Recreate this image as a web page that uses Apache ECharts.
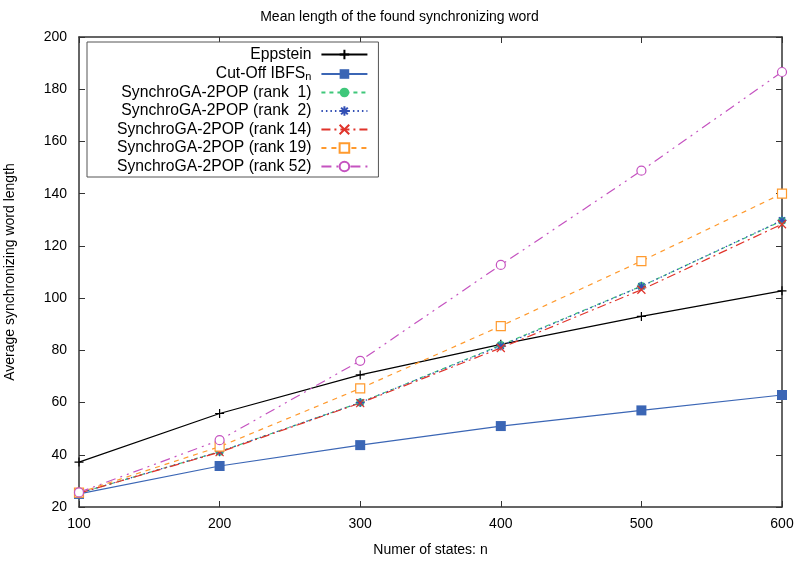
<!DOCTYPE html>
<html>
<head>
<meta charset="utf-8">
<script src="https://cdn.jsdelivr.net/npm/echarts@6/dist/echarts.min.js"></script>
<style>
  html, body { margin: 0; padding: 0; background: #fff; }
  #chart { width: 799px; height: 564px; }
</style>
</head>
<body>
<div id="chart"></div>
<script>
// values
const states = [100, 200, 300, 400, 500, 600];
const eppstein = [37.2, 55.8, 70.6, 82.3, 93.0, 102.8];
const cutOff = [25.0, 35.7, 43.7, 51.0, 57.0, 62.9];
const rank1 = [25.3, 41.2, 60.0, 82.0, 104.6, 129.6];
const rank2 = [25.3, 41.2, 60.0, 81.7, 104.5, 129.8];
const rank14 = [25.3, 41.0, 59.8, 80.9, 103.2, 128.3];
const rank19 = [25.5, 43.1, 65.4, 89.3, 114.2, 140.0];
const rank52 = [25.6, 45.6, 76.0, 112.7, 148.8, 186.6];

const font = 'Liberation Sans';

let chart = echarts.init(document.getElementById('chart'));

function pts(vals) {
  return states.map((s, i) => [s, vals[i]]);
}

function mkSeries(name, vals, color, dash, symbol, size, extra) {
  let s = {
    name: name,
    type: 'line',
    data: pts(vals),
    symbol: symbol,
    symbolSize: size,
    showAllSymbol: true,
    lineStyle: { color: color, width: 1.2, type: dash },
    itemStyle: { color: color, borderColor: color, borderWidth: 1.2 },
    emphasis: { disabled: true },
    z: 3
  };
  return Object.assign(s, extra || {});
}

const plus = 'path://M5,0L5,10M0,5L10,5';
const cross = 'path://M0,0L10,10M10,0L0,10';
const star = 'path://M5,0L5,10M0,5L10,5M1.5,1.5L8.5,8.5M8.5,1.5L1.5,8.5';

let option = {
  animation: false,
  backgroundColor: '#fff',
  title: {
    text: 'Mean length of the found synchronizing word',
    left: 'center',
    top: 5,
    textStyle: { fontFamily: font, fontSize: 14, fontWeight: 'normal', color: '#000' }
  },
  legend: {
    orient: 'vertical',
    left: 87,
    top: 42,
    align: 'right',
    itemWidth: 46,
    itemHeight: 12,
    itemGap: 1.5,
    padding: [4, 10, 2, 30],
    borderColor: '#555',
    borderWidth: 1,
    backgroundColor: '#fff',
    formatter: function (name) {
      if (name === 'Cut-Off IBFS_n') return '{a|Cut-Off IBFS}{sub|n}';
      return name;
    },
    textStyle: {
      fontFamily: font, fontSize: 15.7, color: '#000', lineHeight: 17, padding: [0, 5, 0, 0],
      rich: {
        a: { fontFamily: font, fontSize: 15.7, color: '#000', lineHeight: 17 },
        sub: { fontFamily: font, fontSize: 11, color: '#000', lineHeight: 17, verticalAlign: 'bottom', padding: [7, 0, 0, 0] }
      }
    },
    data: ['Eppstein', 'Cut-Off IBFS_n', 'SynchroGA-2POP (rank  1)', 'SynchroGA-2POP (rank  2)',
      'SynchroGA-2POP (rank 14)', 'SynchroGA-2POP (rank 19)', 'SynchroGA-2POP (rank 52)']
  },
  grid: { left: 79, right: 17, top: 37, bottom: 57, outerBoundsMode: 'none', containLabel: false },
  xAxis: [{
    type: 'value',
    min: 100, max: 600, interval: 100,
    name: 'Numer of states: n',
    nameLocation: 'middle',
    nameGap: 36,
    nameTextStyle: { fontFamily: font, fontSize: 14, color: '#000' },
    axisLine: { show: true, lineStyle: { color: '#333', width: 1.5 } },
    axisTick: { inside: true, length: 6, lineStyle: { color: '#333' } },
    axisLabel: { fontFamily: font, fontSize: 14, color: '#000', margin: 10 },
    splitLine: { show: false }
  }, {
    type: 'value',
    position: 'top',
    min: 100, max: 600, interval: 100,
    axisLine: { show: true, lineStyle: { color: '#333', width: 1.5 } },
    axisTick: { inside: true, length: 6, lineStyle: { color: '#333' } },
    axisLabel: { show: false },
    splitLine: { show: false }
  }],
  yAxis: [{
    type: 'value',
    min: 20, max: 200, interval: 20,
    name: 'Average synchronizing word length',
    nameLocation: 'middle',
    nameGap: 62,
    nameTextStyle: { fontFamily: font, fontSize: 14, color: '#000' },
    axisLine: { show: true, lineStyle: { color: '#333', width: 1.5 } },
    axisTick: { inside: true, length: 6, lineStyle: { color: '#333' } },
    axisLabel: { fontFamily: font, fontSize: 14, color: '#000', margin: 12 },
    splitLine: { show: false }
  }, {
    type: 'value',
    position: 'right',
    min: 20, max: 200, interval: 20,
    axisLine: { show: true, lineStyle: { color: '#333', width: 1.5 } },
    axisTick: { inside: true, length: 6, lineStyle: { color: '#333' } },
    axisLabel: { show: false },
    splitLine: { show: false }
  }],
  series: [
    mkSeries('Eppstein', eppstein, '#000000', 'solid', plus, 9),
    mkSeries('Cut-Off IBFS_n', cutOff, '#3b66b5', 'solid', 'rect', 10, { itemStyle: { color: '#3b66b5', borderWidth: 0 } }),
    mkSeries('SynchroGA-2POP (rank  1)', rank1, '#3fc77a', [4, 4], 'circle', 8, { itemStyle: { color: '#3fc77a', borderWidth: 0 } }),
    mkSeries('SynchroGA-2POP (rank  2)', rank2, '#3350b5', [1.5, 3], star, 9),
    mkSeries('SynchroGA-2POP (rank 14)', rank14, '#e0332a', [9, 4, 2, 4], cross, 8),
    mkSeries('SynchroGA-2POP (rank 19)', rank19, '#ff9a2e', [5, 5], 'rect', 9,
      { itemStyle: { color: '#fff', borderColor: '#ff9a2e', borderWidth: 1.2 } }),
    mkSeries('SynchroGA-2POP (rank 52)', rank52, '#c553c0', [10, 5, 2, 5, 2, 5], 'circle', 9,
      { itemStyle: { color: '#fff', borderColor: '#c553c0', borderWidth: 1.2 } })
  ]
};

chart.setOption(option);
</script>
</body>
</html>
